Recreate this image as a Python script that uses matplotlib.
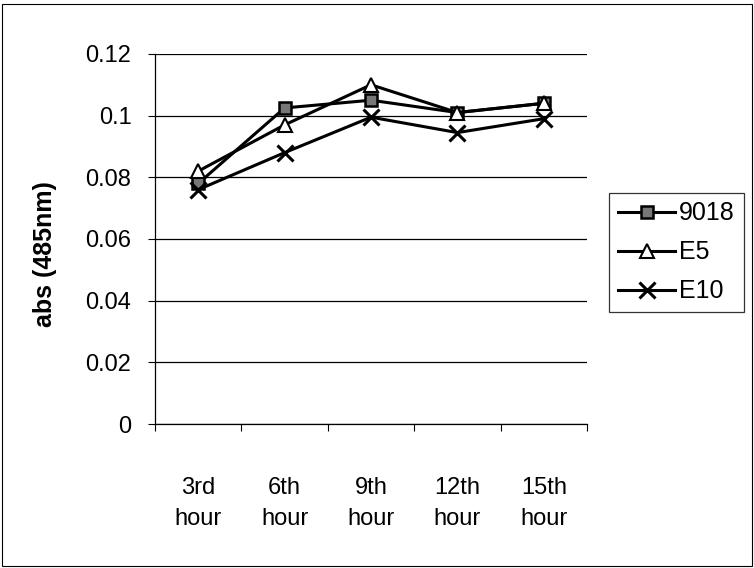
import matplotlib
matplotlib.use("Agg")
import matplotlib.pyplot as plt
import numpy as np

plt.rcParams['font.family'] = ['Liberation Sans', 'DejaVu Sans']

categories = ['3rd\nhour', '6th\nhour', '9th\nhour', '12th\nhour', '15th\nhour']
s9018 = [0.078, 0.1025, 0.105, 0.101, 0.104]
e5 = [0.082, 0.097, 0.110, 0.101, 0.104]
e10 = [0.076, 0.088, 0.0995, 0.0945, 0.099]

fig = plt.figure(figsize=(7.54, 5.68), dpi=100)
ax = fig.add_axes([0.2056, 0.2535, 0.5729, 0.6515])

x = np.arange(len(categories)) + 0.5
ax.plot(x, s9018, color='black', lw=2.2, marker='s', ms=9,
        markerfacecolor='#777777', markeredgecolor='black', markeredgewidth=1.8, label='9018')
ax.plot(x, e5, color='black', lw=2.2, marker='^', ms=10,
        markerfacecolor='white', markeredgecolor='black', markeredgewidth=1.5, label='E5')
ax.plot(x, e10, color='black', lw=2.2, marker='x', ms=11,
        markeredgewidth=2.2, label='E10')

ax.set_xlim(0, 5)
ax.set_ylim(0, 0.12)
ax.set_yticks([0, 0.02, 0.04, 0.06, 0.08, 0.1, 0.12])
ax.set_yticklabels(['0', '0.02', '0.04', '0.06', '0.08', '0.1', '0.12'], fontsize=17)
ax.yaxis.grid(True, color='black', lw=0.9)
ax.set_axisbelow(True)

ax.set_xticks(np.arange(6))
ax.set_xticklabels([])
ax.set_xticks(x, minor=True)
ax.set_xticklabels(categories, minor=True, fontsize=17, linespacing=1.55)
ax.tick_params(axis='x', which='minor', length=0, pad=38)
ax.tick_params(axis='x', which='major', length=5, direction='out')
ax.tick_params(axis='y', length=5, direction='out', pad=12)

for side in ['top', 'right']:
    ax.spines[side].set_visible(False)
ax.spines['left'].set_linewidth(0.9)
ax.spines['bottom'].set_linewidth(0.9)

ax.set_ylabel('abs (485nm)', fontsize=18, fontweight='bold')
ax.yaxis.set_label_coords(-0.228, 0.46)

leg = ax.legend(loc='center left', bbox_to_anchor=(1.051, 0.4635), fontsize=18,
                frameon=True, fancybox=False, edgecolor='black', handlelength=2.3,
                handletextpad=0.15, borderpad=0.35, labelspacing=0.6, borderaxespad=0)
leg.get_frame().set_linewidth(0.9)

fig.patches.append(plt.Rectangle((0.003, 0.003), 0.994, 0.99, transform=fig.transFigure,
                                 fill=False, edgecolor='black', lw=0.8))

fig.savefig('out.png', dpi=100)
